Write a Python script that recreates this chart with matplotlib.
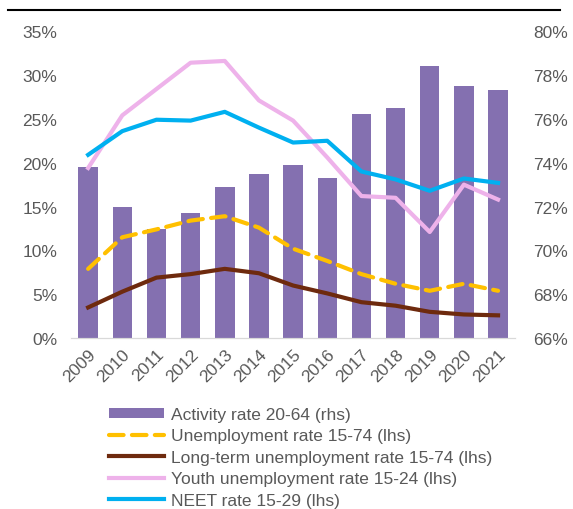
import matplotlib.pyplot as plt
from matplotlib.lines import Line2D
import numpy as np

plt.rcParams['font.family'] = ['Liberation Sans', 'DejaVu Sans']

years = ['2009', '2010', '2011', '2012', '2013', '2014', '2015',
         '2016', '2017', '2018', '2019', '2020', '2021']

# rhs (%)
activity = [73.8, 72.0, 71.0, 71.7, 72.9, 73.5, 73.9,
            73.3, 76.2, 76.5, 78.4, 77.5, 77.3]

# lhs (%)
unemployment = [7.9, 11.5, 12.4, 13.4, 13.9, 12.6, 10.2,
                8.8, 7.3, 6.2, 5.4, 6.2, 5.4]
long_term = [3.5, 5.3, 6.9, 7.3, 7.9, 7.4, 6.0,
             5.1, 4.1, 3.7, 3.0, 2.7, 2.6]
youth = [19.4, 25.4, 28.4, 31.4, 31.6, 27.1, 24.8,
         20.6, 16.2, 16.0, 12.1, 17.5, 15.8]
neet = [20.9, 23.6, 24.9, 24.8, 25.8, 24.0, 22.3,
        22.5, 19.0, 18.1, 16.8, 18.2, 17.7]

gray = '#595959'
fs = 12.5

fig = plt.figure(figsize=(5.73, 5.10), dpi=100)
ax = fig.add_axes([0.124, 0.335, 0.775, 0.602])
ax2 = ax.twinx()

x = np.arange(len(years))

# bars on the right axis, drawn behind the lines
ax2.bar(x, [a - 66 for a in activity], bottom=66, width=0.57,
        color='#8470B0', label='Activity rate 20-64 (rhs)', zorder=1)
ax2.set_ylim(66, 80)
ax2.set_yticks(np.arange(66, 81, 2))
ax2.set_yticklabels([f'{v}%' for v in range(66, 81, 2)])

ax.set_zorder(ax2.get_zorder() + 1)
ax.patch.set_visible(False)

ax.plot(x, unemployment, color='#FFC000', lw=3, dashes=(3.5, 2),
        dash_capstyle='round', label='Unemployment rate 15-74 (lhs)')
ax.plot(x, long_term, color='#6E2A0E', lw=3,
        label='Long-term unemployment rate 15-74 (lhs)')
ax.plot(x, youth, color='#EEB2EA', lw=3,
        label='Youth unemployment rate 15-24 (lhs)')
ax.plot(x, neet, color='#00B0F0', lw=3, label='NEET rate 15-29 (lhs)')

ax.set_ylim(0, 35)
ax.set_yticks(np.arange(0, 36, 5))
ax.set_yticklabels([f'{v}%' for v in range(0, 36, 5)])
ax.set_xlim(-0.5, len(years) - 0.5)
ax.set_xticks(x)
ax.set_xticklabels(years, rotation=45, ha='right', rotation_mode='anchor')

for a in (ax, ax2):
    for s in ('top', 'left', 'right'):
        a.spines[s].set_visible(False)
    a.spines['bottom'].set_color('#D9D9D9')
    a.tick_params(length=0, labelsize=fs, colors=gray)
ax.tick_params(axis='y', pad=10)
ax2.tick_params(axis='y', pad=13)
ax.tick_params(axis='x', pad=6)

h1, l1 = ax2.get_legend_handles_labels()
h2, l2 = ax.get_legend_handles_labels()
fig.legend(h1 + h2, l1 + l2, loc='upper left', bbox_to_anchor=(0.190, 0.200),
           frameon=False, fontsize=fs, labelcolor=gray, handlelength=3.2,
           handleheight=0.5, handletextpad=0.4, labelspacing=0.37,
           borderaxespad=0, borderpad=0)

# rule under the (cropped) title
fig.add_artist(Line2D([0.014, 0.977], [0.978, 0.978], color='black', lw=1.5))

fig.savefig('out.png', dpi=100)
